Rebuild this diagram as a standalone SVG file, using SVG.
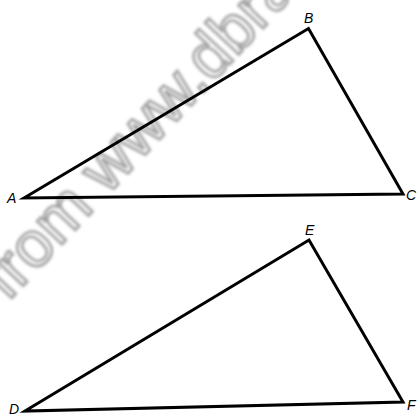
<svg xmlns="http://www.w3.org/2000/svg" width="420" height="417" viewBox="0 0 420 417">
  <defs>
    <filter id="soft" x="-10%" y="-10%" width="120%" height="120%">
      <feGaussianBlur stdDeviation="1.5"/>
    </filter>
  </defs>
  <style>
    .edge { fill: none; stroke: #000; stroke-width: 3; stroke-linejoin: miter; stroke-linecap: round; }
    .lbl { font-family: "Liberation Sans", Arial, sans-serif; font-style: italic; font-size: 14px; fill: #000; }
    .wm { font-family: "Liberation Sans", Arial, sans-serif; font-size: 64px; fill: none; stroke: #a0a0a0; stroke-width: 2.6; }
  </style>
  <rect width="420" height="417" fill="#fff"/>
  <g id="watermark" filter="url(#soft)">
    <text class="wm" transform="translate(8,302) rotate(-47)">from www.dbra</text>
  </g>
  <g id="triangle-ABC">
    <polygon class="edge" points="24,198 308.5,28.5 403,194"/>
    <text class="lbl" x="7" y="203">A</text>
    <text class="lbl" x="304" y="22.5">B</text>
    <text class="lbl" x="406" y="200">C</text>
  </g>
  <g id="triangle-DEF">
    <polygon class="edge" points="25,411 309,240 403,402"/>
    <text class="lbl" x="9" y="414">D</text>
    <text class="lbl" x="305" y="235">E</text>
    <text class="lbl" x="407" y="410">F</text>
  </g>
</svg>
